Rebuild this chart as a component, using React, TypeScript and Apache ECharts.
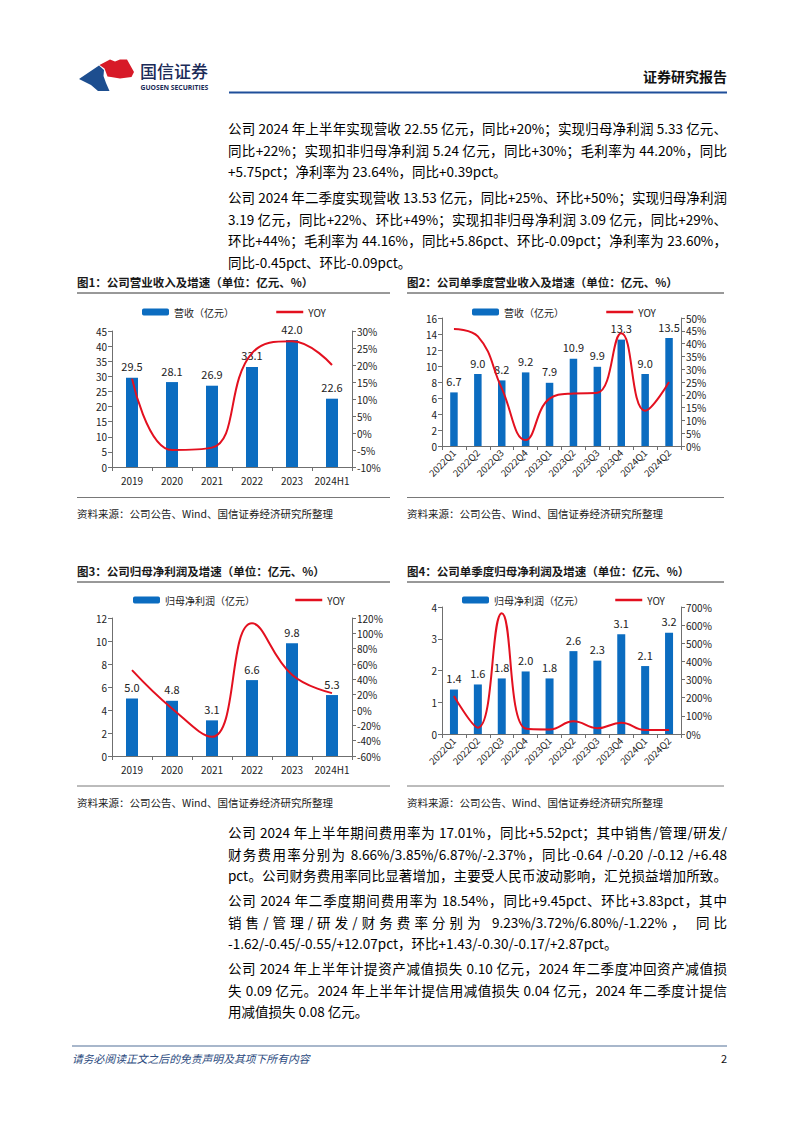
import React, { useEffect, useRef } from "react";
import * as echarts from "echarts";

// ---------- data ----------
const years = ["2019", "2020", "2021", "2022", "2023", "2024H1"];
const quarters = ["2022Q1", "2022Q2", "2022Q3", "2022Q4", "2023Q1", "2023Q2", "2023Q3", "2023Q4", "2024Q1", "2024Q2"];

const revenueAnnual = [29.5, 28.1, 26.9, 33.1, 42.0, 22.6];
const revenueAnnualYoy = [16.0, -5.0, -4.3, 23.5, 27.0, 20.0];

const revenueQuarter = [6.7, 9.0, 8.2, 9.2, 7.9, 10.9, 9.9, 13.3, 9.0, 13.5];
const revenueQuarterYoy = [45.7, 42.8, 22.5, 2.3, 18.5, 20.5, 20.8, 44.0, 13.8, 25.0];

const profitAnnual = [5.0, 4.8, 3.1, 6.6, 9.8, 5.3];
const profitAnnualYoy = [52, 2, -35, 113, 46, 22];

const profitQuarter = [1.4, 1.56, 1.75, 1.97, 1.75, 2.61, 2.31, 3.14, 2.14, 3.19];
const profitQuarterYoy = [210, 35, 665, 30, 25, 70, 32, 62, 22, 22];

const figTitles = [
  "图1：公司营业收入及增速（单位：亿元、%）",
  "图2：公司单季度营业收入及增速（单位：亿元、%）",
  "图3：公司归母净利润及增速（单位：亿元、%）",
  "图4：公司单季度归母净利润及增速（单位：亿元、%）",
];
const sourceText = "资料来源：公司公告、Wind、国信证券经济研究所整理";
const barNames = ["营收（亿元）", "营收（亿元）", "归母净利润（亿元）", "归母净利润（亿元）"];
const lineName = "YOY";

const paragraphs = [
  [
    "公司 2024 年上半年实现营收 22.55 亿元，同比+20%；实现归母净利润 5.33 亿元、",
    "同比+22%；实现扣非归母净利润 5.24 亿元，同比+30%；毛利率为 44.20%，同比",
    "+5.75pct；净利率为 23.64%，同比+0.39pct。",
  ],
  [
    "公司 2024 年二季度实现营收 13.53 亿元，同比+25%、环比+50%；实现归母净利润",
    "3.19 亿元，同比+22%、环比+49%；实现扣非归母净利润 3.09 亿元，同比+29%、",
    "环比+44%；毛利率为 44.16%，同比+5.86pct、环比-0.09pct；净利率为 23.60%，",
    "同比-0.45pct、环比-0.09pct。",
  ],
  [
    "公司 2024 年上半年期间费用率为 17.01%，同比+5.52pct；其中销售/管理/研发/",
    "财务费用率分别为 8.66%/3.85%/6.87%/-2.37%，同比-0.64 /-0.20 /-0.12 /+6.48",
    "pct。公司财务费用率同比显著增加，主要受人民币波动影响，汇兑损益增加所致。",
  ],
  [
    "公司 2024 年二季度期间费用率为 18.54%，同比+9.45pct、环比+3.83pct，其中",
    "销售/管理/研发/财务费率分别为 9.23%/3.72%/6.80%/-1.22%， 同比",
    "-1.62/-0.45/-0.55/+12.07pct，环比+1.43/-0.30/-0.17/+2.87pct。",
  ],
  [
    "公司 2024 年上半年计提资产减值损失 0.10 亿元，2024 年二季度冲回资产减值损",
    "失 0.09 亿元。2024 年上半年计提信用减值损失 0.04 亿元，2024 年二季度计提信",
    "用减值损失 0.08 亿元。",
  ],
];
const paragraphTops = [128, 197, 832, 900, 968];
const lastLineJustified = [false, false, true, false, false];

// ---------- layout ----------
const FONT = "'Noto Sans CJK SC', 'Noto Sans', sans-serif";
const BLUE = "#0B6CC0";
const RED = "#E3101F";
const AXIS = "#6f6f6f";

const grids = [
  { left: 112, top: 331, width: 240, height: 136 },
  { left: 442, top: 318, width: 239, height: 128 },
  { left: 112, top: 618, width: 240, height: 138 },
  { left: 442, top: 607, width: 239, height: 127 },
];

function catAxis(gridIndex: number, data: string[], rotate: number) {
  return {
    type: "category",
    gridIndex,
    data,
    axisLine: { lineStyle: { color: AXIS, width: 1 } },
    axisTick: { show: true, length: 4, lineStyle: { color: AXIS } },
    axisLabel: { color: "#222", fontSize: rotate ? 9.5 : 10, margin: rotate ? 5 : 8, rotate, interval: 0 },
  };
}

function valAxis(gridIndex: number, position: string, min: number, max: number, interval: number, pct: boolean) {
  return {
    type: "value",
    gridIndex,
    position,
    min,
    max,
    interval,
    splitLine: { show: false },
    axisLine: { show: true, lineStyle: { color: AXIS, width: 1 } },
    axisTick: { show: true, length: 4, lineStyle: { color: AXIS } },
    axisLabel: { color: "#222", fontSize: 10, margin: 5, formatter: pct ? "{value}%" : "{value}" },
  };
}

function barSeries(name: string, idx: number, data: number[], width: number) {
  return {
    type: "bar",
    name,
    xAxisIndex: idx,
    yAxisIndex: idx * 2,
    data,
    barWidth: width,
    itemStyle: { color: BLUE },
    label: {
      show: true,
      position: "top",
      distance: 6,
      fontSize: 11,
      color: "#222",
      formatter: (p: any) => Number(p.value).toFixed(1),
    },
  };
}

function lineSeries(idx: number, data: number[]) {
  return {
    type: "line",
    name: lineName,
    xAxisIndex: idx,
    yAxisIndex: idx * 2 + 1,
    data,
    smooth: 0.45,
    symbol: "none",
    z: 5,
    lineStyle: { color: RED, width: 2 },
    itemStyle: { color: RED },
  };
}

const legendPos = [
  { a: 142, b: 275, top: 307 },
  { a: 472, b: 605, top: 307 },
  { a: 133, b: 294, top: 595 },
  { a: 462, b: 614, top: 595 },
];

const legends: any[] = [];
legendPos.forEach((p, i) => {
  legends.push({
    data: [barNames[i]],
    left: p.a,
    top: p.top,
    padding: 0,
    itemWidth: 27,
    itemHeight: 7,
    textStyle: { fontSize: 10, color: "#222" },
    selectedMode: false,
  });
  legends.push({
    data: [lineName],
    left: p.b,
    top: p.top,
    padding: 0,
    itemWidth: 27,
    itemHeight: 7,
    itemStyle: { opacity: 0 },
    lineStyle: { width: 2.5, color: RED },
    textStyle: { fontSize: 10, color: "#222" },
    selectedMode: false,
  });
});

const txt = (text: string, x: number, y: number, size: number, extra: any = {}) => ({
  type: "text",
  x,
  y,
  silent: true,
  style: {
    text,
    fontSize: size,
    fontFamily: FONT,
    fill: "#111",
    verticalAlign: "middle",
    align: "left",
    ...extra,
  },
});

const hline = (x1: number, x2: number, y: number, color: string, w: number) => ({
  type: "line",
  silent: true,
  shape: { x1, y1: y, x2, y2: y },
  style: { stroke: color, lineWidth: w },
});

const figBoxes = [
  { x1: 77, x2: 390, titleY: 282, lineY: 293, srcLineY: 497.5, srcY: 513.5 },
  { x1: 407, x2: 724, titleY: 282, lineY: 293, srcLineY: 497.5, srcY: 513.5 },
  { x1: 77, x2: 390, titleY: 571, lineY: 582, srcLineY: 786, srcY: 802 },
  { x1: 407, x2: 724, titleY: 571, lineY: 582, srcLineY: 786, srcY: 802 },
];

const graphics: any[] = [
  // logo
  {
    type: "polygon",
    silent: true,
    shape: {
      points: [
        [79, 79], [99, 65.5], [104, 70], [103.5, 76], [106, 83], [109.5, 91], [98, 91], [91, 85],
      ],
    },
    style: { fill: "#1D4E8F" },
  },
  {
    type: "polygon",
    silent: true,
    shape: {
      points: [
        [99.5, 65], [110, 59.5], [115, 61.5], [120, 59.5], [127, 59.5], [134, 72], [131.5, 77], [120, 78.5], [111, 77], [107.5, 76.5], [106, 72.5], [104.5, 68.5],
      ],
    },
    style: { fill: "#D71A28" },
  },
  txt("国信证券", 140, 70, 17, { fill: "#1B2B57", fontWeight: 500 }),
  txt("GUOSEN SECURITIES", 140.5, 87.5, 6.8, { fill: "#1B2B57", fontWeight: "bold", fontFamily: "'Open Sans', sans-serif" }),
  txt("证券研究报告", 727, 76, 14, { align: "right", fontWeight: "bold", fill: "#111" }),
  hline(229, 727, 92.5, "#1F4E9A", 2),
  // footer
  hline(72, 727, 1046, "#A8B7CB", 2),
  txt("请务必阅读正文之后的免责声明及其项下所有内容", 72, 1058, 10.8, { fill: "#2B4A7E", fontStyle: "italic" }),
  txt("2", 727, 1058, 11, { align: "right", fill: "#111" }),
];

figBoxes.forEach((b, i) => {
  graphics.push(txt(figTitles[i], b.x1, b.titleY, 11.5, { fontWeight: "bold", fill: "#1a1a1a" }));
  graphics.push(hline(b.x1, b.x2, b.lineY, "#333", 1));
  graphics.push(hline(b.x1, b.x2, b.srcLineY, "#555", 0.8));
  graphics.push(txt(sourceText, b.x1, b.srcY, 10.5, { fill: "#1a1a1a" }));
});

const option: any = {
  animation: false,
  backgroundColor: "#fff",
  textStyle: { fontFamily: FONT },
  legend: legends,
  grid: grids,
  xAxis: [
    catAxis(0, years, 0),
    catAxis(1, quarters, 45),
    catAxis(2, years, 0),
    catAxis(3, quarters, 45),
  ],
  yAxis: [
    valAxis(0, "left", 0, 45, 5, false),
    valAxis(0, "right", -10, 30, 5, true),
    valAxis(1, "left", 0, 16, 2, false),
    valAxis(1, "right", 0, 50, 5, true),
    valAxis(2, "left", 0, 12, 2, false),
    valAxis(2, "right", -60, 120, 20, true),
    valAxis(3, "left", 0, 4, 1, false),
    valAxis(3, "right", 0, 700, 100, true),
  ],
  series: [
    barSeries(barNames[0], 0, revenueAnnual, 12),
    lineSeries(0, revenueAnnualYoy),
    barSeries(barNames[1], 1, revenueQuarter, 7.5),
    lineSeries(1, revenueQuarterYoy),
    barSeries(barNames[2], 2, profitAnnual, 12),
    lineSeries(2, profitAnnualYoy),
    barSeries(barNames[3], 3, profitQuarter, 8),
    lineSeries(3, profitQuarterYoy),
  ],
  graphic: graphics,
};

export default function App() {
  const ref = useRef<HTMLDivElement>(null);
  useEffect(() => {
    const chart = echarts.init(ref.current!, null, { renderer: "svg" });
    chart.setOption(option);
    return () => chart.dispose();
  }, []);

  const lineDivs: any[] = [];
  paragraphs.forEach((lines, pi) => {
    lines.forEach((line, li) => {
      const isLast = li === lines.length - 1;
      const justify = !isLast || lastLineJustified[pi];
      lineDivs.push(
        <div
          key={`${pi}-${li}`}
          style={{
            position: "absolute",
            left: 228,
            top: paragraphTops[pi] + li * 21.5 - 10,
            width: 499,
            height: 20,
            lineHeight: "20px",
            fontSize: 13.5,
            fontFamily: FONT,
            color: "#000",
            whiteSpace: "nowrap",
            textAlign: justify ? "justify" : "left",
            textAlignLast: justify ? "justify" : "left",
          }}
        >
          {line}
        </div>
      );
    });
  });

  return (
    <div style={{ position: "absolute", left: 0, top: 0, width: 802, height: 1133, background: "#fff", overflow: "hidden" }}>
      <div ref={ref} style={{ position: "absolute", left: 0, top: 0, width: 802, height: 1133 }} />
      {lineDivs}
    </div>
  );
}
